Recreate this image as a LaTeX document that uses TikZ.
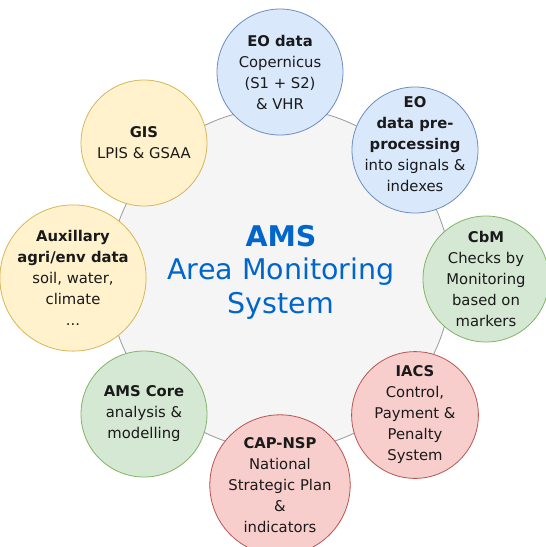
\documentclass[tikz,border=0pt]{standalone}
\usepackage{fontspec}
\setmainfont{DejaVu Sans}
\begin{document}
\definecolor{bluefill}{HTML}{DAE8FC}\definecolor{bluedraw}{HTML}{6C8EBF}
\definecolor{yelfill}{HTML}{FFF2CC}\definecolor{yeldraw}{HTML}{D6B656}
\definecolor{grnfill}{HTML}{D5E8D4}\definecolor{grndraw}{HTML}{82B366}
\definecolor{redfill}{HTML}{F8CECC}\definecolor{reddraw}{HTML}{B85450}
\definecolor{hubfill}{HTML}{F5F5F5}\definecolor{hubdraw}{HTML}{999999}
\definecolor{titleblue}{HTML}{0066CC}
\definecolor{bodytext}{HTML}{1A1A1A}
\begin{tikzpicture}[x=1pt,y=-1pt,
  topic/.style={circle,minimum size=126pt,inner sep=0pt,line width=0.8pt,
    align=center,text=bodytext,font=\fontsize{14.8}{21}\selectfont},
  bluec/.style={topic,fill=bluefill,draw=bluedraw},
  yelc/.style={topic,fill=yelfill,draw=yeldraw},
  grnc/.style={topic,fill=grnfill,draw=grndraw},
  redc/.style={topic,fill=redfill,draw=reddraw}]
\useasboundingbox (0,0) rectangle (546,547);
% central hub
\node[circle,minimum size=342pt,inner sep=0pt,fill=hubfill,draw=hubdraw,line width=0.8pt] (hub) at (280,279) {};
\node[align=center,text=titleblue,font=\fontsize{28.5}{33.5}\selectfont] (title) at (281,272)
  {\textbf{AMS}\\Area Monitoring\\System};
% surrounding topics
\node[bluec] (eo) at (280,72) {\textbf{EO data}\\Copernicus\\(S1 + S2)\\\& VHR};
\node[bluec] (pre) at (415,150) {};
\node[align=center,text=bodytext,font=\fontsize{14.8}{21}\selectfont] (pretxt) at (415,144)
  {\textbf{EO}\\\textbf{data pre-}\\\textbf{processing}\\into signals \&\\indexes};
\node[grnc] (cbm) at (486,279) {\textbf{CbM}\\Checks by\\Monitoring\\based on\\markers};
\node[redc] (iacs) at (415,415) {\textbf{IACS}\\Control,\\Payment \&\\Penalty\\System};
\node[redc] (cap) at (280,485) {\textbf{CAP-NSP}\\National\\Strategic Plan\\\&\\indicators};
\node[grnc] (core) at (144,414) {\textbf{AMS Core}\\analysis \&\\modelling};
\node[yelc] (aux) at (73,278) {\textbf{Auxillary}\\\textbf{agri/env data}\\soil, water,\\climate\\...};
\node[yelc] (gis) at (144,143) {\textbf{GIS}\\LPIS \& GSAA};
\end{tikzpicture}
\end{document}
